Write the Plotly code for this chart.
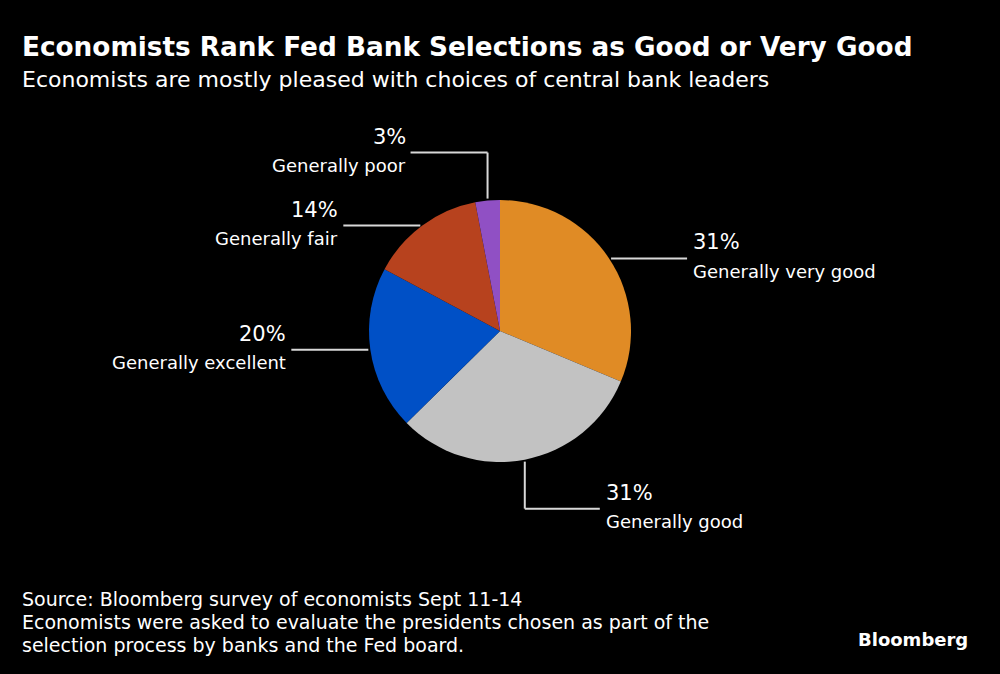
import math
import plotly.graph_objects as go

# ---- data ----
labels = ["Generally very good", "Generally good", "Generally excellent", "Generally fair", "Generally poor"]
values = [31, 31, 20, 14, 3]
pct_text = ["31%", "31%", "20%", "14%", "3%"]
colors = ["#E08B25", "#C2C2C2", "#0050C6", "#B7421E", "#9050C4"]
# leader-line style per slice
leader = ["right", "down-right", "left", "left", "up-left"]

title = "Economists Rank Fed Bank Selections as Good or Very Good"
subtitle = "Economists are mostly pleased with choices of central bank leaders"
footer = ["Source: Bloomberg survey of economists Sept 11-14",
          "Economists were asked to evaluate the presidents chosen as part of the",
          "selection process by banks and the Fed board."]

# ---- layout geometry (pixels) ----
W, H = 1000, 674
CX, CY, R = 500, 331, 131
LINE_COL = "#D8D8D8"
FONT = "DejaVu Sans"


def px(x):
    return x / W


def py(y):
    return 1 - y / H


fig = go.Figure(go.Pie(
    labels=labels, values=values, sort=False, direction="clockwise", rotation=0,
    textinfo="none", hoverinfo="label+percent",
    marker=dict(colors=colors, line=dict(width=0)),
    domain=dict(x=[px(CX - R), px(CX + R)], y=[py(CY + R), py(CY - R)]),
    showlegend=False,
))

shapes = []
annotations = []


def seg(x0, y0, x1, y1):
    shapes.append(dict(type="line", xref="paper", yref="paper",
                       x0=px(x0), y0=py(y0), x1=px(x1), y1=py(y1),
                       line=dict(color=LINE_COL, width=2)))


def label_pair(x, y, anchor, pct, lab):
    annotations.append(dict(x=px(x), y=py(y - 16), xref="paper", yref="paper",
                            text=pct, showarrow=False, xanchor=anchor, yanchor="middle",
                            font=dict(family=FONT, size=21, color="white")))
    annotations.append(dict(x=px(x), y=py(y + 13), xref="paper", yref="paper",
                            text=lab, showarrow=False, xanchor=anchor, yanchor="middle",
                            font=dict(family=FONT, size=18, color="white")))


total = sum(values)
cum = 0
for v, lab, pct, kind in zip(values, labels, pct_text, leader):
    mid = (cum + v / 2) / total * 2 * math.pi
    cum += v
    ex = CX + R * math.sin(mid)
    ey = CY - R * math.cos(mid)
    if kind == "right":
        x0 = ex + 2
        x1 = x0 + 76
        seg(x0, ey, x1, ey)
        label_pair(x1 + 4, ey, "left", pct, lab)
    elif kind == "left":
        x0 = ex - 2
        x1 = x0 - 77
        seg(x0, ey, x1, ey)
        label_pair(x1 - 3, ey, "right", pct, lab)
    elif kind == "down-right":
        y1 = ey + 49
        seg(ex, ey + 2, ex, y1)
        x1 = ex + 75
        seg(ex, y1, x1, y1)
        label_pair(x1 + 4, y1, "left", pct, lab)
    elif kind == "up-left":
        y1 = ey - 48
        seg(ex, ey - 2, ex, y1)
        x1 = ex - 77
        seg(ex, y1, x1, y1)
        label_pair(x1 - 3, y1, "right", pct, lab)

annotations.append(dict(x=px(20), y=py(47), xref="paper", yref="paper", text="<b>" + title + "</b>",
                        showarrow=False, xanchor="left", yanchor="middle",
                        font=dict(family=FONT, size=26.3, color="white")))
annotations.append(dict(x=px(20), y=py(79), xref="paper", yref="paper", text=subtitle,
                        showarrow=False, xanchor="left", yanchor="middle",
                        font=dict(family=FONT, size=22, color="white")))
for i, line in enumerate(footer):
    annotations.append(dict(x=px(20), y=py(599 + 23 * i), xref="paper", yref="paper", text=line,
                            showarrow=False, xanchor="left", yanchor="middle",
                            font=dict(family=FONT, size=19, color="white")))
annotations.append(dict(x=px(970), y=py(639), xref="paper", yref="paper", text="<b>Bloomberg</b>",
                        showarrow=False, xanchor="right", yanchor="middle",
                        font=dict(family=FONT, size=18, color="white")))

fig.update_layout(
    width=W, height=H,
    margin=dict(l=0, r=0, t=0, b=0),
    paper_bgcolor="black", plot_bgcolor="black",
    shapes=shapes, annotations=annotations,
)

fig.write_html("out.html", config={"displayModeBar": False},
               post_script="document.body.style.margin='0';document.body.style.background='black';")
